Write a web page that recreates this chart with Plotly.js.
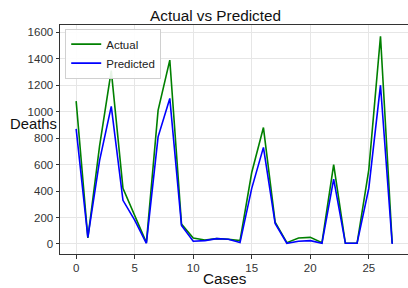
<!DOCTYPE html>
<html>
<head>
<meta charset="utf-8">
<script src="https://cdn.plot.ly/plotly-3.0.1.min.js"></script>
<style>
html,body{margin:0;padding:0;overflow:hidden;background:#fff;}
#chart{width:408px;height:288px;}
</style>
</head>
<body>
<div id="chart"></div>
<script>
const cases = [0,1,2,3,4,5,6,7,8,9,10,11,12,13,14,15,16,17,18,19,20,21,22,23,24,25,26,27];
const actual = [1080,45,740,1310,420,220,10,1010,1390,150,45,30,40,35,25,540,880,165,10,45,50,10,600,5,5,560,1570,5];
const predicted = [870,50,630,1040,330,180,5,810,1100,140,20,25,40,35,10,420,730,155,5,20,25,5,490,5,5,420,1200,0];
const xTicks = [0,5,10,15,20,25];
const yTicks = [0,200,400,600,800,1000,1200,1400,1600];

const FONT = 'Liberation Sans, Arial, sans-serif';

const traces = [
  {x: cases, y: actual, type: 'scatter', mode: 'lines', name: 'Actual',
   line: {color: '#008000', width: 1.6}},
  {x: cases, y: predicted, type: 'scatter', mode: 'lines', name: 'Predicted',
   line: {color: '#0000ff', width: 1.6}}
];

const layout = {
  width: 408, height: 288,
  margin: {l: 60, r: 0, t: 25, b: 34, pad: 0},
  paper_bgcolor: '#fff', plot_bgcolor: '#fff',
  font: {family: FONT, size: 11.5, color: '#333'},
  title: {text: 'Actual vs Predicted', font: {family: FONT, size: 15.3, color: '#111'},
          xref: 'container', x: 215.5/408, xanchor: 'center',
          yref: 'container', y: 1 - 15.5/288, yanchor: 'middle'},
  showlegend: true,
  legend: {x: 0.015, y: 0.984, xanchor: 'left', yanchor: 'top',
           bgcolor: 'rgba(255,255,255,0.9)', bordercolor: '#d0d0d0', borderwidth: 1,
           font: {family: FONT, size: 11.5, color: '#222'}, tracegroupgap: 0, itemwidth: 30},
  xaxis: {range: [-1.38, 28.35], tickvals: xTicks, ticktext: xTicks.map(String),
          showgrid: true, gridcolor: '#e6e6e6', gridwidth: 1, zeroline: false,
          showline: true, linecolor: '#333', linewidth: 1, mirror: true,
          ticks: 'outside', ticklen: 3.5, tickcolor: '#333'},
  yaxis: {range: [-76, 1655], tickvals: yTicks, ticktext: yTicks.map(String),
          showgrid: true, gridcolor: '#e6e6e6', gridwidth: 1, zeroline: false,
          showline: true, linecolor: '#333', linewidth: 1,
          ticks: 'outside', ticklen: 3.5, tickcolor: '#333', ticklabelstandoff: 1.5},
  annotations: [
    {text: 'Deaths', xref: 'paper', yref: 'paper', x: (8.3-60)/348, y: (254-124.5)/229,
     xanchor: 'left', yanchor: 'middle', showarrow: false,
     font: {family: FONT, size: 14.8, color: '#111'}},
    {text: 'Cases', xref: 'paper', yref: 'paper', x: (225-60)/348, y: (254-278.7)/229,
     xanchor: 'center', yanchor: 'middle', showarrow: false,
     font: {family: FONT, size: 15.3, color: '#111'}}
  ]
};

Plotly.newPlot('chart', traces, layout, {staticPlot: true, displayModeBar: false});
</script>
</body>
</html>
